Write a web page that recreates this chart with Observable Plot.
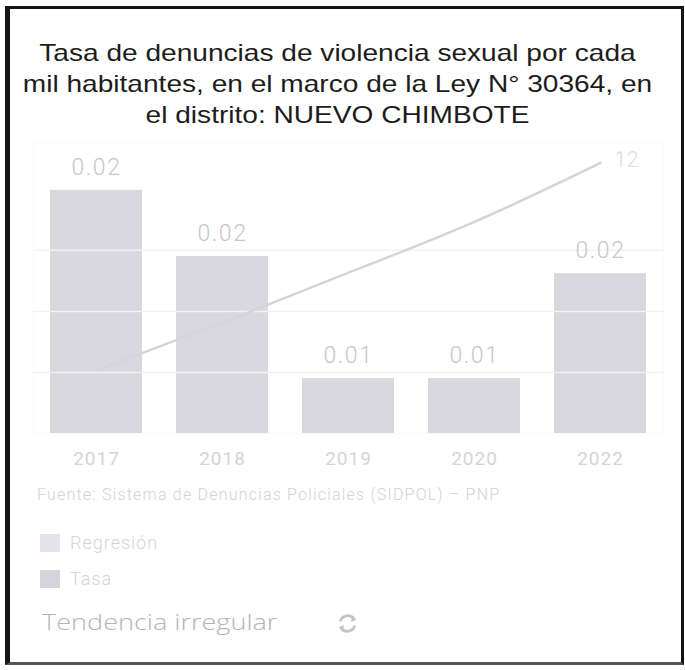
<!DOCTYPE html>
<html>
<head>
<meta charset="utf-8">
<script src="https://cdn.jsdelivr.net/npm/d3@7"></script>
<script src="https://cdn.jsdelivr.net/npm/@observablehq/plot@0.6"></script>
<style>
  html, body { margin: 0; padding: 0; background: #fff; }
  body { width: 685px; height: 670px; position: relative; overflow: hidden; }
  #frame { position: absolute; left: 5px; top: 6px; width: 671px; height: 653px;
           border: 3px solid #151515; border-left-width: 5px; border-bottom-color: #555; }
  #title { position: absolute; left: 0; top: 37px; width: 675px; text-align: center;
           font-family: "Liberation Sans", Arial, sans-serif; font-size: 24px; line-height: 31px; color: #1c1c1c;
           transform: scaleX(1.17); transform-origin: 337.5px 0; }
  #chart { position: absolute; left: 0; top: 130px; }
  #caption { position: absolute; left: 37px; top: 485px; font-family: Roboto, sans-serif; font-weight: 300;
             font-size: 16px; letter-spacing: 1.2px; color: #d2d2d6; white-space: nowrap; }
  .leg { position: absolute; left: 40px; font-family: Roboto, sans-serif; font-weight: 300; font-size: 18px;
         letter-spacing: 1px; color: #d4d4d8; }
  .leg span.sw { display: inline-block; width: 20px; height: 18px; vertical-align: -3px; margin-right: 10px; }
  #trend { position: absolute; left: 42px; top: 606px; font-family: "Open Sans", sans-serif; font-weight: 300;
           font-size: 22px; color: #b4b4b8; transform: scaleX(1.23); transform-origin: 0 0; white-space: nowrap; }
  #icon { position: absolute; left: 336px; top: 612px; }
</style>
</head>
<body>
<div id="frame"></div>
<div id="title">Tasa de denuncias de violencia sexual por cada<br>mil habitantes, en el marco de la Ley N° 30364, en<br>el distrito: NUEVO CHIMBOTE</div>
<div id="chart"></div>
<div id="caption">Fuente: Sistema de Denuncias Policiales (SIDPOL) – PNP</div>
<div class="leg" style="top:532px"><span class="sw" style="background:#e2e2e8"></span>Regresión</div>
<div class="leg" style="top:568px"><span class="sw" style="background:#d4d4da"></span>Tasa</div>
<div id="trend">Tendencia irregular</div>
<svg id="icon" width="23" height="23" viewBox="0 0 22 22">
  <path d="M4 9 A7.5 7.5 0 0 1 17.5 7" fill="none" stroke="#c4c4c8" stroke-width="2.6"/>
  <path d="M18 13 A7.5 7.5 0 0 1 4.5 15" fill="none" stroke="#c4c4c8" stroke-width="2.6"/>
  <path d="M15 4 L19.5 7.5 L14.5 9.5 Z" fill="#c4c4c8"/>
  <path d="M7 18 L2.5 14.5 L7.5 12.5 Z" fill="#c4c4c8"/>
</svg>
<script>
const years = ["2017", "2018", "2019", "2020", "2022"];
const rates = [0.0239, 0.0174, 0.0054, 0.0054, 0.0157];
const rateLabels = ["0.02", "0.02", "0.01", "0.01", "0.02"];
const regression = [0.0062, 0.0109, 0.0158, 0.0208, 0.0266];
const regressionLabel = "12";
const gridTicks = [0.006, 0.012, 0.018];

const rows = years.map((y, i) => ({year: y, rate: rates[i], label: rateLabels[i], reg: regression[i]}));
const last = rows[rows.length - 1];

const chart = Plot.plot({
  width: 685,
  height: 345,
  marginLeft: 33,
  marginRight: 22,
  marginTop: 12,
  marginBottom: 42,
  style: {background: "transparent"},
  x: {domain: years, paddingInner: 0.27, paddingOuter: 0.123, label: null},
  y: {domain: [0, 0.0286], axis: null},
  marks: [
    Plot.frame({stroke: "#ececef", strokeDasharray: "1,2"}),
    Plot.barY(rows, {x: "year", y: "rate", fill: "#d8d8de"}),
    Plot.ruleY(gridTicks, {stroke: "#f2f2f4", strokeWidth: 1.5}),
    Plot.line(rows, {x: "year", y: "reg", stroke: "#d4d4da", strokeWidth: 2.4, curve: "natural"}),
    Plot.text(rows, {x: "year", y: "rate", text: "label", dy: -23, fill: "#c6c6ca",
      fontSize: 23, fontFamily: "Roboto", fontWeight: 300, className: "vlab"}),
    Plot.text([last], {x: "year", y: "reg", text: () => regressionLabel, dx: 26, dy: -3, fill: "#dcdce0",
      fontSize: 22, fontFamily: "Roboto", fontWeight: 300}),
    Plot.axisX({tickSize: 0, tickPadding: 18, fontSize: 19, fill: "#d4d4d8", fontFamily: "Roboto", label: null, className: "ylab"})
  ]
});
document.getElementById("chart").appendChild(chart);
chart.querySelectorAll(".vlab text").forEach(t => t.setAttribute("letter-spacing", "1.5"));
chart.querySelectorAll(".ylab text").forEach(t => t.setAttribute("letter-spacing", "1"));
</script>
</body>
</html>
